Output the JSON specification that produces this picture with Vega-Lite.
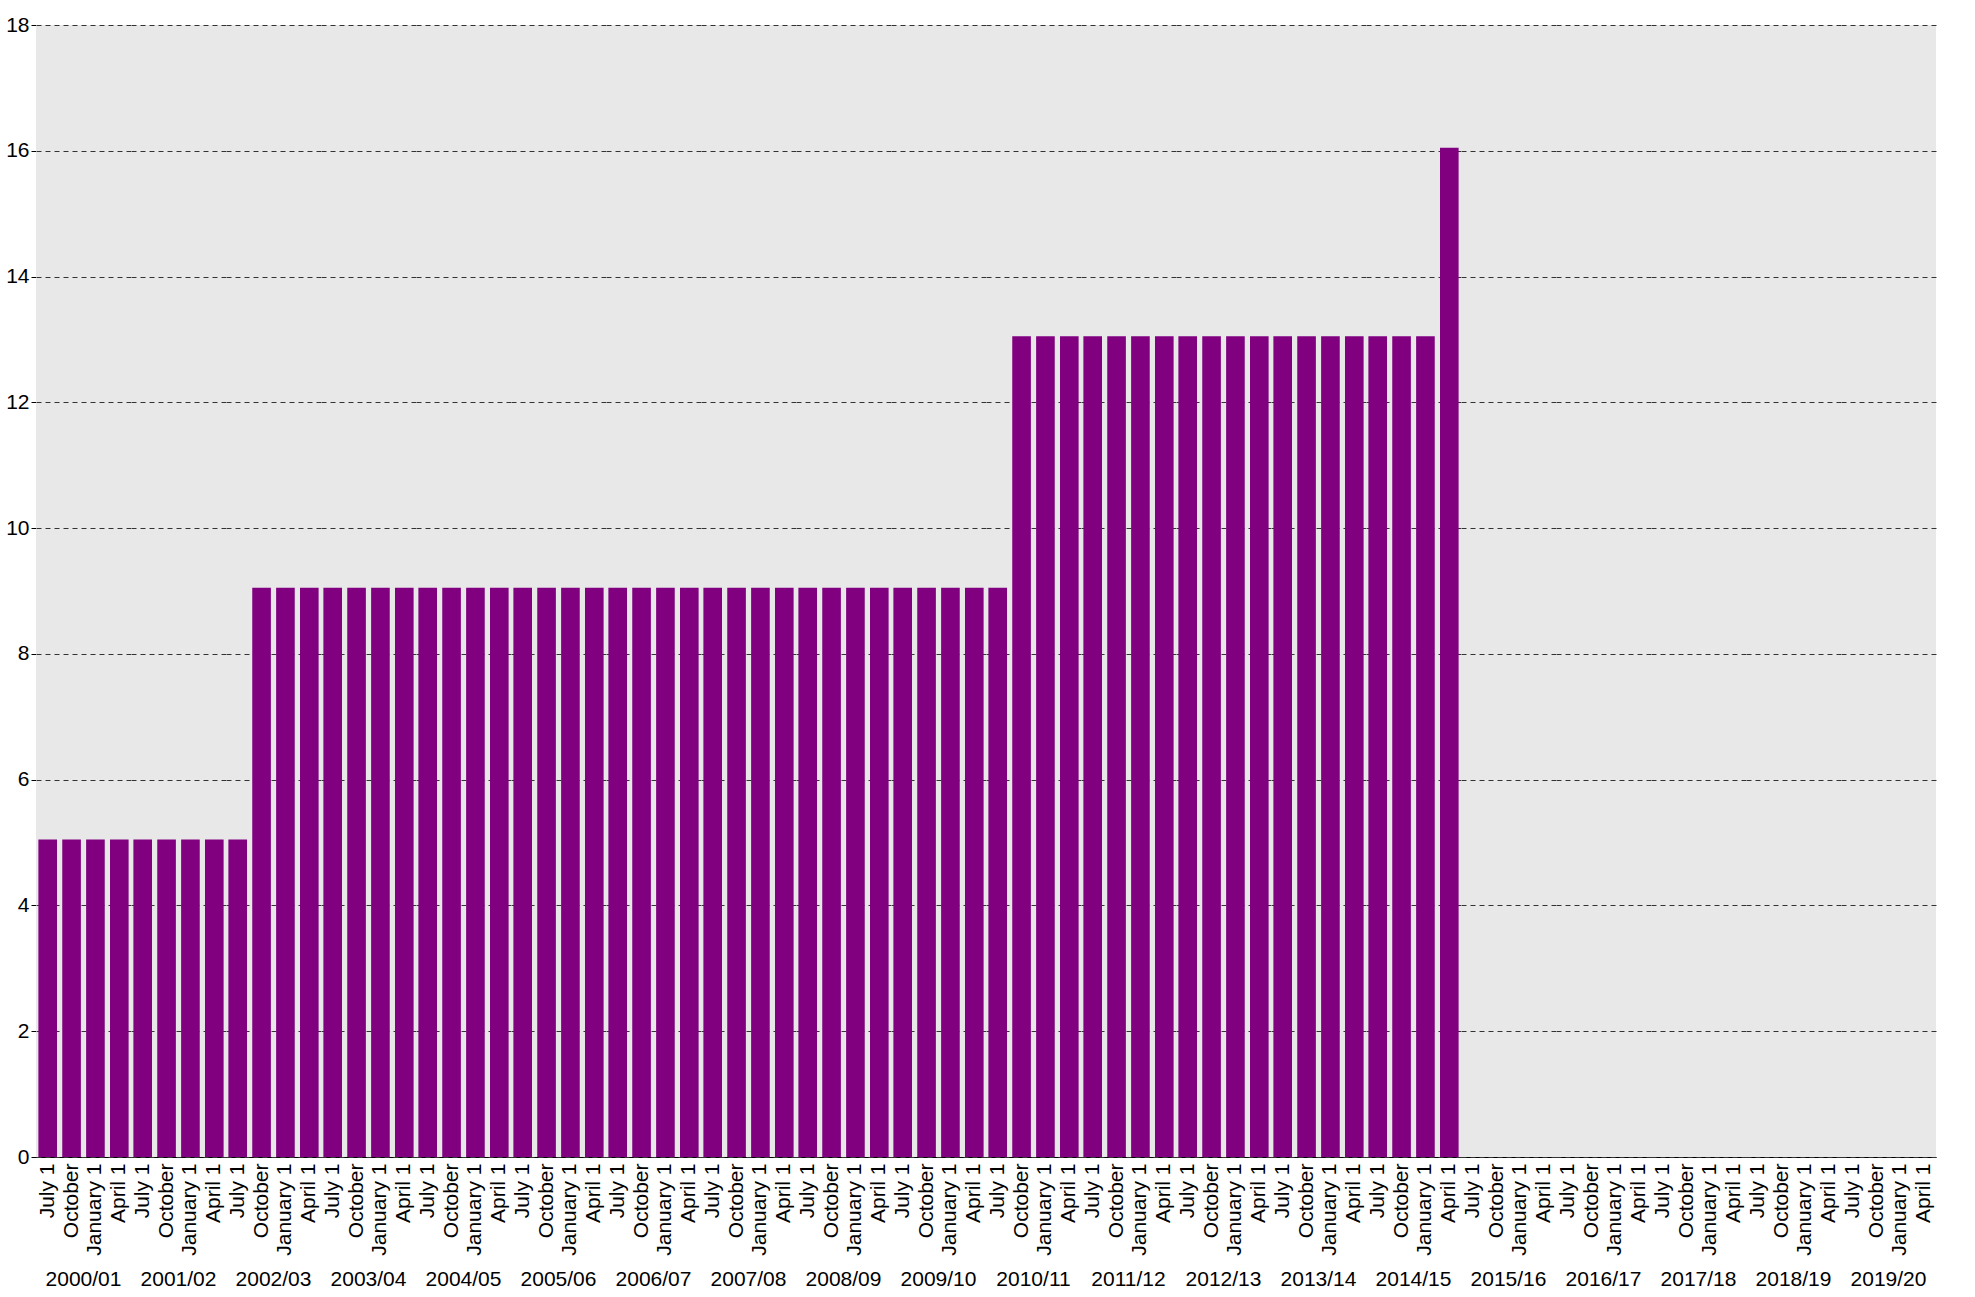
{
  "$schema": "https://vega.github.io/schema/vega-lite/v6.json",
  "background": "white",
  "padding": {"left": 5, "top": 14, "right": 5, "bottom": 5},
  "config": {
    "font": "Liberation Sans",
    "view": {"fill": "#e8e8e8", "stroke": null},
    "facet": {"spacing": 0}
  },
  "data": {"values": [
    {"fy":"2000/01","q":"July 1","v":5.05},{"fy":"2000/01","q":"October","v":5.05},{"fy":"2000/01","q":"January 1","v":5.05},{"fy":"2000/01","q":"April 1","v":5.05},
    {"fy":"2001/02","q":"July 1","v":5.05},{"fy":"2001/02","q":"October","v":5.05},{"fy":"2001/02","q":"January 1","v":5.05},{"fy":"2001/02","q":"April 1","v":5.05},
    {"fy":"2002/03","q":"July 1","v":5.05},{"fy":"2002/03","q":"October","v":9.05},{"fy":"2002/03","q":"January 1","v":9.05},{"fy":"2002/03","q":"April 1","v":9.05},
    {"fy":"2003/04","q":"July 1","v":9.05},{"fy":"2003/04","q":"October","v":9.05},{"fy":"2003/04","q":"January 1","v":9.05},{"fy":"2003/04","q":"April 1","v":9.05},
    {"fy":"2004/05","q":"July 1","v":9.05},{"fy":"2004/05","q":"October","v":9.05},{"fy":"2004/05","q":"January 1","v":9.05},{"fy":"2004/05","q":"April 1","v":9.05},
    {"fy":"2005/06","q":"July 1","v":9.05},{"fy":"2005/06","q":"October","v":9.05},{"fy":"2005/06","q":"January 1","v":9.05},{"fy":"2005/06","q":"April 1","v":9.05},
    {"fy":"2006/07","q":"July 1","v":9.05},{"fy":"2006/07","q":"October","v":9.05},{"fy":"2006/07","q":"January 1","v":9.05},{"fy":"2006/07","q":"April 1","v":9.05},
    {"fy":"2007/08","q":"July 1","v":9.05},{"fy":"2007/08","q":"October","v":9.05},{"fy":"2007/08","q":"January 1","v":9.05},{"fy":"2007/08","q":"April 1","v":9.05},
    {"fy":"2008/09","q":"July 1","v":9.05},{"fy":"2008/09","q":"October","v":9.05},{"fy":"2008/09","q":"January 1","v":9.05},{"fy":"2008/09","q":"April 1","v":9.05},
    {"fy":"2009/10","q":"July 1","v":9.05},{"fy":"2009/10","q":"October","v":9.05},{"fy":"2009/10","q":"January 1","v":9.05},{"fy":"2009/10","q":"April 1","v":9.05},
    {"fy":"2010/11","q":"July 1","v":9.05},{"fy":"2010/11","q":"October","v":13.05},{"fy":"2010/11","q":"January 1","v":13.05},{"fy":"2010/11","q":"April 1","v":13.05},
    {"fy":"2011/12","q":"July 1","v":13.05},{"fy":"2011/12","q":"October","v":13.05},{"fy":"2011/12","q":"January 1","v":13.05},{"fy":"2011/12","q":"April 1","v":13.05},
    {"fy":"2012/13","q":"July 1","v":13.05},{"fy":"2012/13","q":"October","v":13.05},{"fy":"2012/13","q":"January 1","v":13.05},{"fy":"2012/13","q":"April 1","v":13.05},
    {"fy":"2013/14","q":"July 1","v":13.05},{"fy":"2013/14","q":"October","v":13.05},{"fy":"2013/14","q":"January 1","v":13.05},{"fy":"2013/14","q":"April 1","v":13.05},
    {"fy":"2014/15","q":"July 1","v":13.05},{"fy":"2014/15","q":"October","v":13.05},{"fy":"2014/15","q":"January 1","v":13.05},{"fy":"2014/15","q":"April 1","v":16.05},
    {"fy":"2015/16","q":"July 1","v":0},{"fy":"2015/16","q":"October","v":0},{"fy":"2015/16","q":"January 1","v":0},{"fy":"2015/16","q":"April 1","v":0},
    {"fy":"2016/17","q":"July 1","v":0},{"fy":"2016/17","q":"October","v":0},{"fy":"2016/17","q":"January 1","v":0},{"fy":"2016/17","q":"April 1","v":0},
    {"fy":"2017/18","q":"July 1","v":0},{"fy":"2017/18","q":"October","v":0},{"fy":"2017/18","q":"January 1","v":0},{"fy":"2017/18","q":"April 1","v":0},
    {"fy":"2018/19","q":"July 1","v":0},{"fy":"2018/19","q":"October","v":0},{"fy":"2018/19","q":"January 1","v":0},{"fy":"2018/19","q":"April 1","v":0},
    {"fy":"2019/20","q":"July 1","v":0},{"fy":"2019/20","q":"October","v":0},{"fy":"2019/20","q":"January 1","v":0},{"fy":"2019/20","q":"April 1","v":0}
  ]},
  "facet": {
    "column": {
      "field": "fy",
      "type": "ordinal",
      "title": null,
      "header": {"labelOrient": "bottom", "labelFontSize": 21, "labelColor": "black", "labelPadding": 14}
    }
  },
  "spec": {
    "width": 95,
    "height": 1132,
    "mark": {"type": "bar", "color": "#800080"},
    "encoding": {
      "x": {
        "field": "q",
        "type": "nominal",
        "sort": ["July 1", "October", "January 1", "April 1"],
        "scale": {"paddingInner": 0.22, "paddingOuter": 0.1},
        "axis": {"title": null, "labelAngle": -90, "labelFontSize": 21, "labelColor": "black", "domainColor": "black", "ticks": false, "labelPadding": 6, "labelBaseline": "middle"}
      },
      "y": {
        "field": "v",
        "type": "quantitative",
        "scale": {"domain": [0, 18], "nice": false},
        "axis": {"title": null, "values": [0,2,4,6,8,10,12,14,16,18], "labelFontSize": 21, "labelColor": "black", "domainColor": "black", "tickColor": "black", "gridColor": "#333333", "gridDash": [5, 4], "gridWidth": 1}
      }
    }
  }
}
